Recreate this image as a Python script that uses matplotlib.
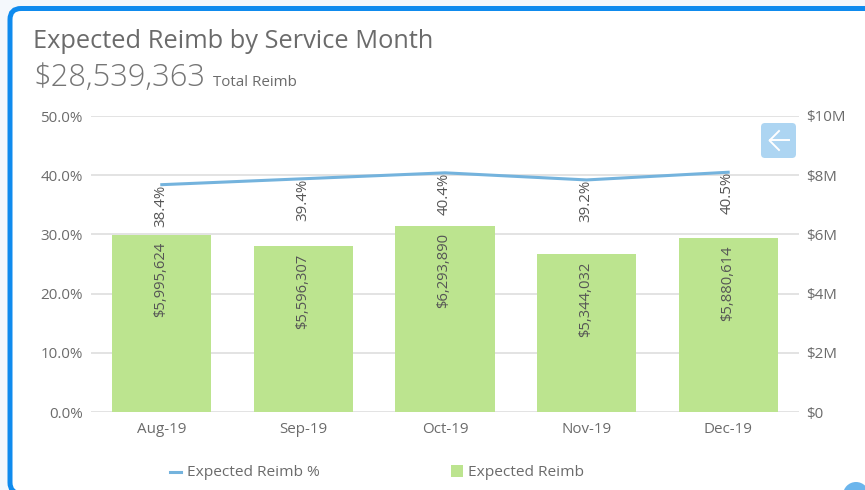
import matplotlib
matplotlib.use('Agg')
import matplotlib.pyplot as plt
from matplotlib.patches import FancyBboxPatch, Circle

plt.rcParams['font.family'] = ['Open Sans', 'DejaVu Sans']

months = ['Aug-19', 'Sep-19', 'Oct-19', 'Nov-19', 'Dec-19']
reimb = [5995624, 5596307, 6293890, 5344032, 5880614]
reimb_pct = [38.4, 39.4, 40.4, 39.2, 40.5]
pct_ticks = [0, 10, 20, 30, 40, 50]
money_ticks = [0, 2, 4, 6, 8, 10]

W, H = 865, 490
grey = '#6B6B6B'
line_blue = '#74B3DD'
bar_green = '#BCE48F'

fig = plt.figure(figsize=(W / 100, H / 100), dpi=100, facecolor='#F4F8FC')

# card behind everything, in pixel coordinates
bg = fig.add_axes([0, 0, 1, 1])
bg.set_xlim(0, W)
bg.set_ylim(H, 0)
bg.axis('off')
bg.add_patch(FancyBboxPatch((10, 8.5), 900, 485, boxstyle='round,pad=0,rounding_size=11',
                            fc='white', ec='#0F8BEE', lw=3.6))

ax = fig.add_axes([91 / W, 1 - 412 / H, 708 / W, 296 / H], zorder=2)
ax.patch.set_alpha(0)
ax2 = ax.twinx()
ax.set_zorder(3)
ax2.set_zorder(2)

x = list(range(len(months)))
bars = ax2.bar(x, reimb, width=0.7, color=bar_green, label='Expected Reimb', zorder=3)
ax2.set_ylim(0, 10e6)
ax2.set_yticks([m * 1e6 for m in money_ticks])
ax2.set_yticklabels(['$0' if m == 0 else '$%dM' % m for m in money_ticks])

line, = ax.plot(x, reimb_pct, color=line_blue, lw=2.2, label='Expected Reimb %', zorder=4)
ax.set_xlim(-0.5, 4.5)
ax.set_ylim(0, 50)
ax.set_yticks(pct_ticks)
ax.set_yticklabels(['%.1f%%' % p for p in pct_ticks])
ax.set_xticks(x)
ax.set_xticklabels(months)

ax2.set_axisbelow(True)
ax2.grid(axis='y', color='#E0E0E0', lw=1.3, zorder=0)
for a in (ax, ax2):
    for s in a.spines.values():
        s.set_visible(False)
    a.tick_params(axis='both', length=0, labelsize=10.9, labelcolor=grey)
ax.tick_params(axis='y', pad=6)
ax2.tick_params(axis='y', pad=5)
ax.tick_params(axis='x', pad=7)

for i in x:
    ax.annotate('$%s' % format(reimb[i], ','), (i, reimb[i] / 2e5), xytext=(-0.7, -5.5),
                textcoords='offset points', rotation=90, ha='center', va='top',
                fontsize=10.6, color='#555555', zorder=6)
    ax.annotate('%.1f%%' % reimb_pct[i], (i, reimb_pct[i]), xytext=(-0.7, 0),
                textcoords='offset points', rotation=90, ha='center', va='top',
                fontsize=10.8, color='#555555', zorder=6)

# title block
top = fig.add_axes([0, 0, 1, 1], zorder=5)
top.set_xlim(0, W)
top.set_ylim(H, 0)
top.axis('off')
top.text(33, 41, 'Expected Reimb by Service Month', fontsize=18.3, color=grey, va='center')
top.text(33, 78, '$28,539,363', fontsize=22.2, color='#757575', va='center', fontweight='light')
top.text(213, 82, 'Total Reimb', fontsize=10.9, color=grey, va='center')

# back button
top.add_patch(FancyBboxPatch((761, 123), 35, 35, boxstyle='round,pad=0,rounding_size=4',
                             fc='#ADD5F2', ec='none'))
top.plot([770, 789], [140.5, 140.5], color='white', lw=1.4)
top.plot([779, 769.5, 779], [131, 140.5, 150], color='white', lw=1.4)
top.add_patch(Circle((856, 495), 13, fc='#6BB5EC', ec='none'))

# legend
top.plot([170, 181], [471.5, 471.5], color=line_blue, lw=2.2)
top.text(187, 472, 'Expected Reimb %', fontsize=11.15, color=grey, va='center')
top.add_patch(plt.Rectangle((451, 465), 12, 12, fc=bar_green, ec='none'))
top.text(468, 472, 'Expected Reimb', fontsize=11.15, color=grey, va='center')

plt.savefig('out.png', dpi=100, facecolor=fig.get_facecolor())
